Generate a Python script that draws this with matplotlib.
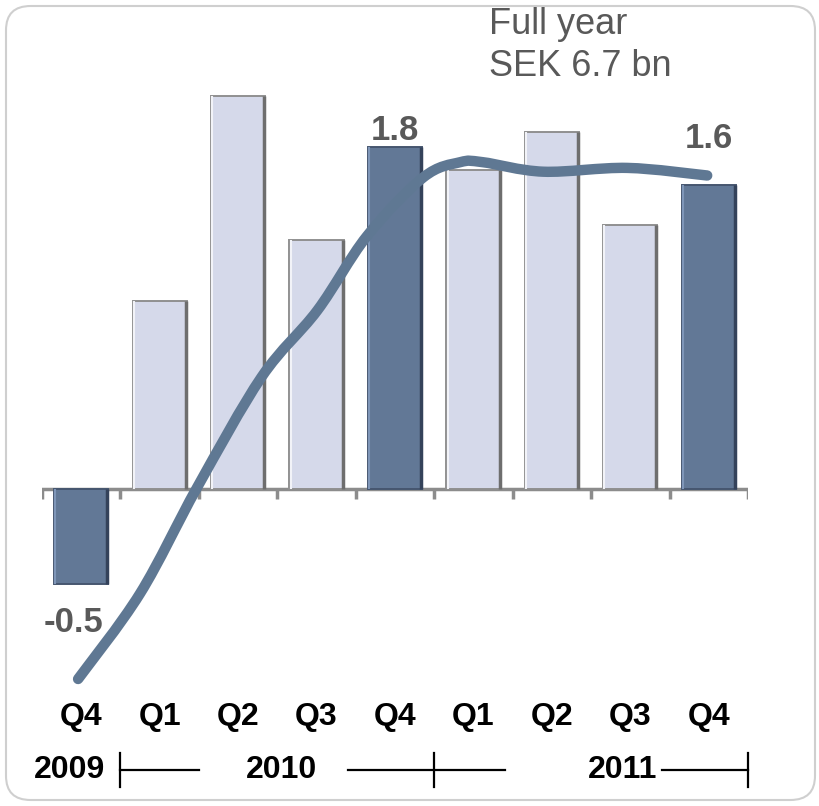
import matplotlib.pyplot as plt
import numpy as np
from matplotlib.patches import FancyBboxPatch, PathPatch
from matplotlib.path import Path
from matplotlib.transforms import blended_transform_factory

plt.rcParams['font.family'] = ['Liberation Sans', 'DejaVu Sans']

# quarterly result, SEK bn
quarters = ["Q4", "Q1", "Q2", "Q3", "Q4", "Q1", "Q2", "Q3", "Q4"]
values = [-0.5, 0.99, 2.07, 1.31, 1.8, 1.68, 1.88, 1.39, 1.6]
highlight = [True, False, False, False, True, False, False, False, True]
years = ["2009", "2010", "2011"]
year_pos = [-0.15, 2.55, 6.9]

# rolling trend curve
trend_x = [-0.04, 0.75, 1.48, 2.30, 3.01, 3.64, 4.36, 4.83, 5.12,
           5.89, 6.96, 7.98]
trend_y = [-1.0, -0.55, 0.01, 0.59, 0.94, 1.33, 1.64, 1.72, 1.72,
           1.67, 1.69, 1.65]

light = "#d5d9ea"
dark = "#627896"
line_col = "#5f7893"
grey = "#595959"


def smooth_path(xs, ys):
    # Catmull-Rom through the points, written as cubic Bezier segments
    p = np.column_stack([xs, ys])
    p = np.vstack([p[0], p, p[-1]])
    verts = [p[1]]
    codes = [Path.MOVETO]
    for i in range(1, len(p) - 2):
        c1 = p[i] + (p[i + 1] - p[i - 1]) / 6
        c2 = p[i + 1] - (p[i + 2] - p[i]) / 6
        verts += [c1, c2, p[i + 1]]
        codes += [Path.CURVE4] * 3
    return Path(verts, codes)


fig = plt.figure(figsize=(8.19, 8.06), dpi=100)
ax = fig.add_axes([42 / 819, 1 - 690 / 806, 706 / 819, 680 / 806])
ax.set_xlim(-0.5, 8.5)
ax.set_ylim((489 - 690) / 190, (489 - 10) / 190)
ax.axis("off")

x = np.arange(len(values))
w = 0.69
cols = [dark if h else light for h in highlight]
edges = ["#46566f" if h else "#909090" for h in highlight]
ax.bar(x, values, width=w, color=cols, edgecolor=edges, linewidth=1.4, zorder=2)
# bevel: darker right side, lighter left side
shade = ["#34425a" if h else "#6e6e6e" for h in highlight]
hil = ["#7f96b8" if h else "#f2f3f8" for h in highlight]
ax.vlines(x + w / 2 - 0.012, 0, values, colors=shade, lw=2.5, zorder=2)
ax.vlines(x - w / 2 + 0.015, 0, values, colors=hil, lw=1.5, zorder=2)

# category axis with boundary ticks
ax.axhline(0, color="#8c8c8c", lw=2.5, zorder=1)
ax.vlines(np.arange(len(values) + 1) - 0.5, -0.05, 0, color="#8c8c8c", lw=2.5, zorder=1)

ax.add_patch(PathPatch(smooth_path(trend_x, trend_y), fc="none", ec=line_col,
                       lw=7.5, capstyle="round", joinstyle="round", zorder=3,
                       clip_on=False))

bt = blended_transform_factory(ax.transData, fig.transFigure)
fy = lambda py: 1 - py / 806

# value labels
for i, py in [(0, 622), (4, 130), (8, 138)]:
    txt = f"{values[i]:.1f}"
    ax.text(i - (0.1 if values[i] < 0 else 0), fy(py), txt, transform=bt,
            ha="center", va="center", fontsize=25, fontweight="bold", color=grey)

narrow = ["Liberation Sans Narrow", "Liberation Sans"]
for i, q in enumerate(quarters):
    ax.text(i, fy(717), q, transform=bt, ha="center", va="center",
            fontsize=23, fontweight="bold", color="black", family=narrow)

for y, p in zip(years, year_pos):
    ax.text(p, fy(770), y, transform=bt, ha="center", va="center",
            fontsize=23, fontweight="bold", color="black", family=narrow)

# year brackets
kw = dict(color="black", lw=1.6, transform=bt, clip_on=False)
for x0, x1 in [(0.5, 1.5), (3.4, 5.4), (7.4, 8.5)]:
    ax.plot([x0, x1], [fy(770), fy(770)], **kw)
for xt in [0.5, 4.5, 8.5]:
    ax.plot([xt, xt], [fy(753), fy(787)], **kw)

fig.text(489 / 819, fy(7), "Full year\nSEK 6.7 bn", ha="left", va="top",
         fontsize=26, color=grey, linespacing=1.25)

frame = FancyBboxPatch((6 / 819, 6 / 806), 809 / 819, 794 / 806,
                       boxstyle="round,pad=0,rounding_size=0.03",
                       transform=fig.transFigure, fc="none", ec="#cfcfcf", lw=1.5)
fig.patches.append(frame)

fig.savefig("out.png", dpi=100)
